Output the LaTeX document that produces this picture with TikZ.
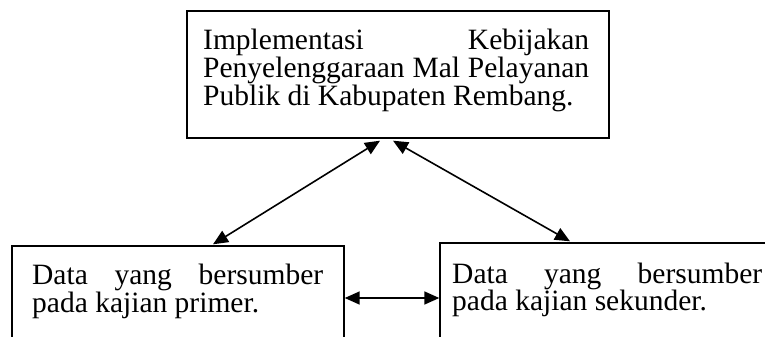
\documentclass[tikz,border=0pt]{standalone}
\usepackage{fontspec}
\setmainfont{Liberation Serif}
\usetikzlibrary{arrows.meta}
\tikzset{
  box/.style={draw, line width=1.4pt, rectangle, inner sep=0pt},
  txt/.style={anchor=base west, inner sep=0pt},
  link/.style={line width=1.6pt, {Triangle[length=15pt,width=13pt]}-{Triangle[length=15pt,width=13pt]}}
}
\newcommand{\jline}[1]{\makebox[\linewidth][s]{#1}\\}
\begin{document}
\begin{tikzpicture}[x=1pt,y=-1pt]
\clip (0,0) rectangle (765,337);
\fill[white] (0,0) rectangle (765,337);
% boxes
\node[box, minimum width=422pt, minimum height=127pt] (top) at (398,74.5) {};
\node[box, minimum width=332pt, minimum height=120pt] (left) at (178,306) {};
\node[box, minimum width=360pt, minimum height=120pt] (right) at (620,303) {};
% texts
\node[txt] (toptext) at (203,49.5) {\parbox[t]{386pt}{\fontsize{29.5}{28}\selectfont\noindent
\jline{Implementasi Kebijakan}
\jline{Penyelenggaraan Mal Pelayanan}
Publik di Kabupaten Rembang.}};
\node[txt] (lefttext) at (32,284) {\parbox[t]{291pt}{\fontsize{29.5}{28}\selectfont\noindent
\jline{Data yang bersumber}
pada kajian primer.}};
\node[txt] (righttext) at (452,283) {\parbox[t]{310pt}{\fontsize{29.5}{27}\selectfont\noindent
\jline{Data yang bersumber}
pada kajian sekunder.}};
% connectors
\draw[link] ([xshift=-18pt,yshift=-2pt]top.south) -- ([xshift=35pt,yshift=1pt]left.north);
\draw[link] ([xshift=-5pt,yshift=-2pt]top.south) -- ([xshift=-50pt,yshift=1pt]right.north);
\draw[link] ([yshift=8pt]left.east) -- ([yshift=5pt]right.west);
\end{tikzpicture}
\end{document}
